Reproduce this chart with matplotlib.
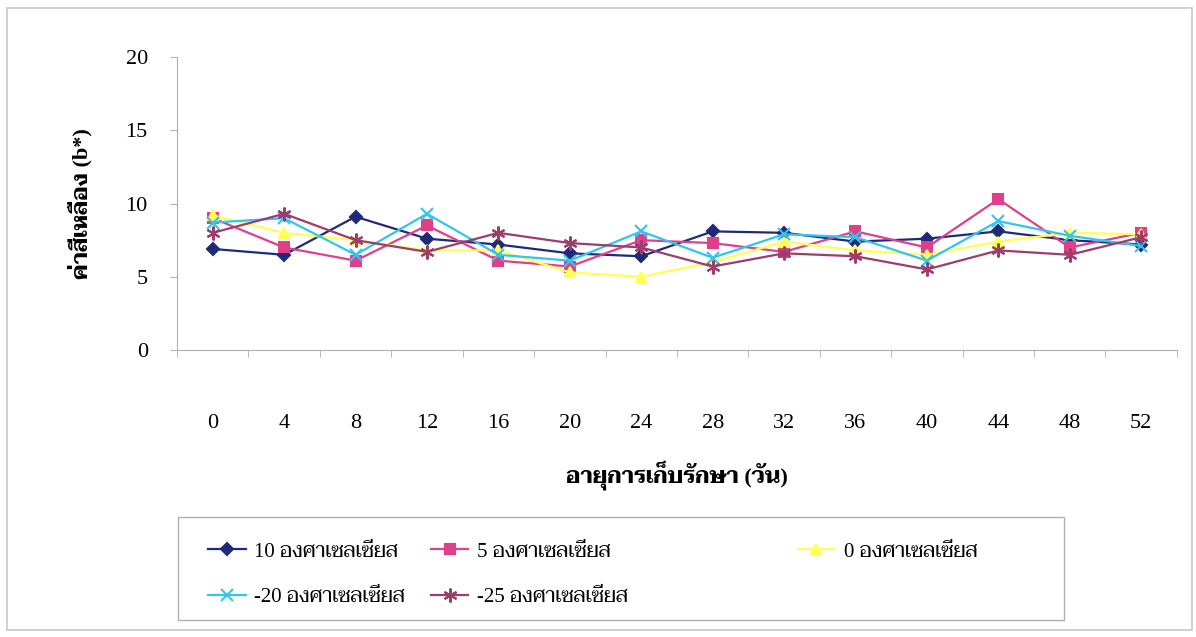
import matplotlib
matplotlib.use("Agg")
import matplotlib.pyplot as plt
from matplotlib.ticker import FixedLocator, NullFormatter

# ข้อมูลจากกราฟ: ค่าสีเหลือง (b*) ตามอายุการเก็บรักษา
days = ["0", "4", "8", "12", "16", "20", "24", "28", "32", "36", "40", "44", "48", "52"]
t_10 = [6.9, 6.5, 9.1, 7.6, 7.2, 6.6, 6.4, 8.1, 8.0, 7.4, 7.6, 8.1, 7.5, 7.2]
t_5 = [9.0, 7.0, 6.1, 8.5, 6.1, 5.7, 7.5, 7.3, 6.7, 8.1, 7.0, 10.3, 7.0, 8.0]
t_0 = [9.2, 8.0, 7.5, 6.8, 6.8, 5.3, 5.0, 6.0, 7.4, 6.8, 6.5, 7.4, 8.0, 7.9]
t_m20 = [8.7, 9.0, 6.5, 9.3, 6.5, 6.1, 8.1, 6.3, 7.9, 7.7, 6.1, 8.8, 7.8, 7.1]
t_m25 = [8.0, 9.3, 7.5, 6.7, 8.0, 7.3, 7.0, 5.7, 6.6, 6.4, 5.5, 6.8, 6.5, 7.7]
labels = ["10 องศาเซลเซียส", "5 องศาเซลเซียส", "0 องศาเซลเซียส",
          "-20 องศาเซลเซียส", "-25 องศาเซลเซียส"]

FONTS = ["Liberation Serif", "Taviraj", "Trirong", "Sarabun", "Noto Serif Thai",
         "Noto Sans Thai", "Athiti", "DejaVu Sans"]
plt.rcParams["font.family"] = FONTS

fig = plt.figure(figsize=(11.96, 6.37), dpi=100)
# กรอบนอกของแผนภูมิ
fig.patches.append(plt.Rectangle((0.006, 0.011), 0.991, 0.976, transform=fig.transFigure,
                                 fill=False, edgecolor="#c8c8c8", linewidth=1.2))

ax = fig.add_axes([0.148, 0.4505, 0.836, 0.46])
x = list(range(len(days)))

styles = [
    (t_10, "#1f2a7a", "D", 6.5),
    (t_5, "#e0408a", "s", 6.5),
    (t_0, "#ffff55", "^", 7),
    (t_m20, "#33c4f0", "x", 9),
    (t_m25, "#9c3d6e", (6, 2, 0), 10),
]
lines = []
for (vals, col, mk, ms), lab in zip(styles, labels):
    ln, = ax.plot(x, vals, color=col, marker=mk, markersize=ms, linewidth=1.6,
                  markeredgewidth=1.5, label=lab)
    lines.append(ln)

ax.set_xlim(-0.5, len(days) - 0.5)
ax.set_ylim(0, 20)
ax.set_yticks([0, 5, 10, 15, 20])
ax.set_xticks(x)
ax.set_xticklabels(days)
ax.xaxis.set_minor_locator(FixedLocator([i - 0.5 for i in range(len(days) + 1)]))
ax.xaxis.set_minor_formatter(NullFormatter())
ax.tick_params(axis="x", which="major", length=0, pad=46, labelsize=16)
ax.tick_params(axis="x", which="minor", length=5, color="#b0b0b0")
ax.tick_params(axis="y", length=5, color="#b0b0b0", labelsize=16, pad=16)

for side in ["top", "right"]:
    ax.spines[side].set_visible(False)
for side in ["left", "bottom"]:
    ax.spines[side].set_color("#b0b0b0")

ax.set_xlabel("อายุการเก็บรักษา (วัน)", fontsize=16, fontweight="bold", labelpad=20)
ax.set_ylabel("ค่าสีเหลือง (b*)", fontsize=16, fontweight="bold", labelpad=24)

# กรอบคำอธิบายสัญลักษณ์ (Excel วางคอลัมน์ไม่เท่ากัน จึงแยกเป็นสองชุด)
fig.patches.append(plt.Rectangle((0.149, 0.027), 0.741, 0.161, transform=fig.transFigure,
                                 fill=False, edgecolor="#b0b0b0", linewidth=1.0))
leg_kw = dict(fontsize=15, frameon=False, handlelength=1.8, handletextpad=0.4,
              borderpad=0, borderaxespad=0, labelspacing=1.25, loc="upper left")
order = [0, 3, 1, 4]
leg1 = fig.legend([lines[i] for i in order], [labels[i] for i in order], ncol=2,
                  columnspacing=1.25, bbox_to_anchor=(0.174, 0.149), **leg_kw)
leg2 = fig.legend([lines[2]], [labels[2]], bbox_to_anchor=(0.667, 0.149), **leg_kw)

fig.savefig("out.png", dpi=100)
